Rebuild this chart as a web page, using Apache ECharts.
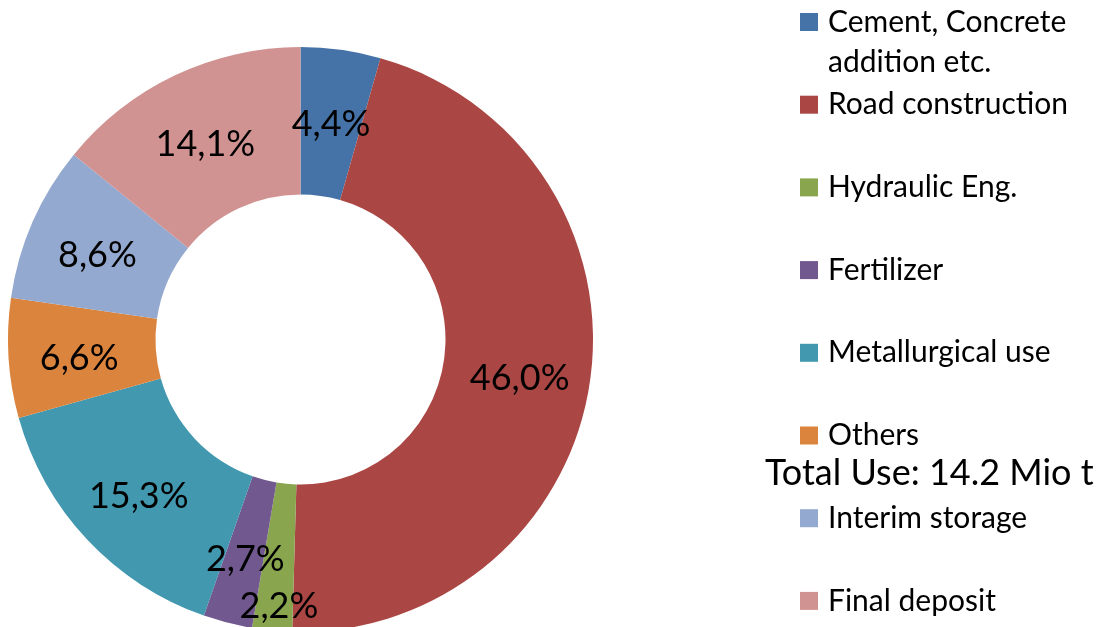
<!DOCTYPE html>
<html>
<head>
<meta charset="utf-8">
<script src="https://cdn.jsdelivr.net/npm/echarts@6/dist/echarts.min.js"></script>
<style>
  html, body { margin: 0; padding: 0; background: #fff; }
  #chart { width: 1109px; height: 627px; }
</style>
</head>
<body>
<div id="chart"></div>
<script>
// categories and shares (%), clockwise from top
const categories = ['Cement, Concrete addition etc.', 'Road construction', 'Hydraulic Eng.', 'Fertilizer',
  'Metallurgical use', 'Others', 'Interim storage', 'Final deposit'];
const shares = [4.4, 46.0, 2.2, 2.7, 15.3, 6.6, 8.6, 14.1];
const colors = ['#4572A7', '#AA4643', '#89A54E', '#71588F', '#4198AF', '#DB843D', '#93A9CF', '#D19392'];
const totalText = 'Total Use: 14.2 Mio t';

const FONT = 'Lato';
const LH = 40;

let chart = echarts.init(document.getElementById('chart'));

// one legend per entry so the irregular spacing can be kept
let legends = categories.map(function (name, i) {
  let cy = 22 + i * 82.7;
  return {
    left: 800,
    top: cy - LH / 2,
    orient: 'vertical',
    padding: 0,
    itemWidth: 18,
    itemHeight: 18,
    icon: 'rect',
    selectedMode: false,
    data: [name],
    formatter: function (n) {
      // first entry wraps, its second line is drawn as a title below
      return n === categories[0] ? 'Cement, Concrete' : n;
    },
    textStyle: {
      fontFamily: FONT,
      fontSize: 30,
      color: '#000',
      lineHeight: LH,
      padding: [0, 0, 0, 5]
    }
  };
});

chart.setOption({
  backgroundColor: '#fff',
  animation: false,
  color: colors,
  title: [{
    text: totalText,
    left: 765,
    top: 453,
    padding: 0,
    textStyle: {fontFamily: FONT, fontSize: 36, fontWeight: 'normal', color: '#000', lineHeight: 40}
  }, {
    text: 'addition etc.',
    left: 828,
    top: 62 - LH / 2,
    padding: 0,
    textStyle: {fontFamily: FONT, fontSize: 30, fontWeight: 'normal', color: '#000', lineHeight: LH}
  }],
  legend: legends,
  series: [{
    type: 'pie',
    center: [300.5, 339.5],
    radius: [145, 292.5],
    startAngle: 90,
    clockwise: true,
    avoidLabelOverlap: false,
    itemStyle: {borderWidth: 0},
    label: {
      show: true,
      position: 'inside',
      fontFamily: FONT,
      fontSize: 36,
      color: '#000',
      formatter: function (p) {
        return p.value.toFixed(1).replace('.', ',') + '%';
      }
    },
    labelLine: {show: false},
    labelLayout: function (params) {
      // small hydraulic label is pushed down below the ring in the original
      if (params.dataIndex === 2) return {dy: 46};
      return {dy: 5};
    },
    emphasis: {disabled: true},
    data: categories.map(function (c, i) {
      return {name: c, value: shares[i]};
    })
  }]
});
</script>
</body>
</html>
